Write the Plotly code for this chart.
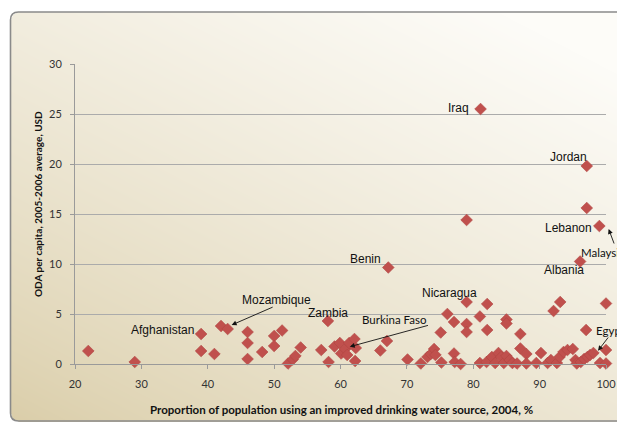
import base64
import struct
import zlib

import numpy as np
import plotly.graph_objects as go

# ---------------- data ----------------
water_pct = [
    22, 29, 39, 39, 41, 42, 43, 46, 46, 46, 48.2,
    50, 50, 51.2, 52.1, 52.8, 53.2, 54, 57.1, 58.1, 58.2,
    59.1, 59.9, 60.1, 60.7, 61, 61.3, 62.1, 62.3, 62.2,
    66, 67, 67.2, 70.1, 72.1, 73.1, 73.6, 74.1, 74.3,
    75.1, 75.2, 76.1, 77.1, 77.1, 77.2, 78.1,
    79, 79, 79, 79, 81, 81.1, 81,
    82.1, 82.1, 82, 82.8, 83.3, 83.8, 84.2, 84.6, 85.0, 85.5, 85.9, 86.6,
    85, 85, 87.1, 87.1, 88, 88,
    89.5, 90.2, 91.2, 91.7, 92.6, 93, 93.6, 94.2, 95, 95.4, 95.6,
    96.2, 96.7, 97.2, 97.6, 98.1, 99.1, 100, 100,
    92.1, 93.1, 97, 100,
    96.1, 97.1, 97.1, 99, 100.2,
]
oda_usd = [
    1.3, 0.2, 3.0, 1.3, 1.0, 3.8, 3.5, 3.2, 2.1, 0.5, 1.2,
    2.8, 1.8, 3.35, 0.05, 0.45, 0.8, 1.65, 1.4, 4.3, 0.2,
    1.75, 2.1, 1.05, 1.5, 0.9, 2.1, 2.5, 1.6, 0.3,
    1.35, 2.3, 9.65, 0.45, 0.05, 0.7, 1.0, 1.5, 0.9,
    3.15, 0.15, 5.0, 4.2, 1.05, 0.2, 0.0,
    6.2, 4.0, 3.2, 14.4, 4.75, 25.5, 0.1,
    6.0, 3.4, 0.2, 0.7, 0.1, 1.1, 0.7, 0.1, 0.8, 0.4, 0.1, 0.05,
    4.45, 4.05, 3.0, 1.55, 1.0, 0.05,
    0.1, 1.1, 0.1, 0.4, 0.1, 0.7, 1.2, 1.4, 1.5, 0.4, 0.05,
    0.2, 0.5, 0.7, 0.9, 1.1, 0.1, 1.4, 0.05,
    5.3, 6.2, 3.4, 6.05,
    10.25, 19.8, 15.6, 13.8, 13.9,
]

x_range = [20, 100]
y_range = [0, 30]
x_ticks = [20, 30, 40, 50, 60, 70, 80, 90, 100]
y_ticks = [0, 5, 10, 15, 20, 25, 30]

x_title = "Proportion of population using an improved drinking water source, 2004, %"
y_title = "ODA per capita, 2005-2006 average, USD"

# country labels
label_names = ["Iraq", "Jordan", "Lebanon", "Albania", "Malaysia", "Benin",
               "Nicaragua", "Zambia", "Mozambique", "Afghanistan",
               "Burkina Faso", "Egypt"]
label_x = [77.8, 94.4, 94.4, 93.6, 99.5, 63.7, 76.35, 58.16, 50.43, 33.2, 68.2, 100.7]
label_y = [25.6, 20.67, 13.63, 9.4, 11.2, 10.5, 7.07, 5.07, 6.4, 3.4, 4.45, 3.4]
label_calibri = [False, False, False, False, True, False, False, False, False, False, True, True]

# arrows: tail -> head
arrow_tail_x = [50.0, 73.4, 101.3, 100.5]
arrow_tail_y = [5.75, 3.9, 11.9, 2.8]
arrow_head_x = [43.6, 61.4, 100.4, 98.8]
arrow_head_y = [3.9, 1.73, 13.5, 1.33]

# ---------------- background gradient image ----------------
W, H = 640, 410
yy, xx = np.mgrid[0:H, 0:W].astype(float)
u = xx / W
v = 1.0 - yy / H
s = np.clip(0.5 * u + 0.62 * v, 0, 1) ** 0.8
dark = np.array([218, 205, 168], float)
light = np.array([253, 252, 248], float)
rgb = dark[None, None, :] + s[..., None] * (light - dark)[None, None, :]
alpha = np.full((H, W), 255.0)
r = 8.0
for cy in (r, H - 1 - r):
    d = np.sqrt((xx - r) ** 2 + (yy - cy) ** 2)
    mask = (xx < r) & (((yy < r) & (cy == r)) | ((yy > H - 1 - r) & (cy != r)))
    alpha[mask & (d > r)] = 0
img = np.dstack([rgb, alpha]).clip(0, 255).astype(np.uint8)


def png_bytes(a):
    h, w, _ = a.shape
    raw = b"".join(b"\x00" + a[i].tobytes() for i in range(h))

    def chunk(tag, data):
        c = struct.pack(">I", len(data)) + tag + data
        return c + struct.pack(">I", zlib.crc32(tag + data) & 0xFFFFFFFF)

    return (b"\x89PNG\r\n\x1a\n" + chunk(b"IHDR", struct.pack(">IIBBBBB", w, h, 8, 6, 0, 0, 0))
            + chunk(b"IDAT", zlib.compress(raw, 9)) + chunk(b"IEND", b""))


src = "data:image/png;base64," + base64.b64encode(png_bytes(img)).decode()

FIG_W, FIG_H = 617, 423
L_VP, R_VP, T_VP, B_VP = 75, 606, 64, 364     # plot area in page pixels
PW = R_VP - L_VP
PH = B_VP - T_VP


def px(xp):
    return (xp - L_VP) / PW


def py(yp):
    return (B_VP - yp) / PH


def dx(v):   # data x -> paper fraction (annotations may sit past the axis end)
    return (v - x_range[0]) / (x_range[1] - x_range[0])


def dy(v):
    return (v - y_range[0]) / (y_range[1] - y_range[0])


fig = go.Figure()

fig.add_trace(go.Scatter(
    x=water_pct, y=oda_usd, mode="markers",
    marker=dict(symbol="diamond", size=9, color="#C0504D",
                line=dict(color="#B04542", width=0.6)),
    cliponaxis=False, hoverinfo="x+y", showlegend=False,
))

annotations = []
for name, lx, ly, cal in zip(label_names, label_x, label_y, label_calibri):
    annotations.append(dict(
        x=dx(lx), y=dy(ly), xref="paper", yref="paper", text=name, showarrow=False,
        font=dict(family="Lato" if cal else "Liberation Sans", size=11.5 if cal else 12,
                  color="#111111"),
        xanchor="center", yanchor="middle",
    ))
for tx, ty, hx, hy in zip(arrow_tail_x, arrow_tail_y, arrow_head_x, arrow_head_y):
    annotations.append(dict(
        x=dx(hx), y=dy(hy), xref="paper", yref="paper",
        ax=(dx(tx) - dx(hx)) * PW, ay=-(dy(ty) - dy(hy)) * PH, axref="pixel", ayref="pixel",
        text="", showarrow=True, arrowhead=2, arrowsize=1.1, arrowwidth=0.9,
        arrowcolor="#111111",
    ))
annotations.append(dict(
    x=px(341), y=py(409), xref="paper", yref="paper", text="<b>" + x_title + "</b>",
    showarrow=False, font=dict(family="Lato", size=11.5, color="#111111"),
    xanchor="center", yanchor="middle",
))
annotations.append(dict(
    x=px(38), y=py(204), xref="paper", yref="paper", text="<b>" + y_title + "</b>",
    showarrow=False, textangle=-90, font=dict(family="Lato", size=10, color="#111111"),
    xanchor="center", yanchor="middle",
))

frame_path = (
    f"M {px(640)},{py(12)} L {px(18.5)},{py(12)} Q {px(10.5)},{py(12)} {px(10.5)},{py(20)} "
    f"L {px(10.5)},{py(413)} Q {px(10.5)},{py(421)} {px(18.5)},{py(421)} L {px(640)},{py(421)}"
)

fig.update_layout(
    width=FIG_W, height=FIG_H,
    margin=dict(l=L_VP, r=FIG_W - R_VP, t=T_VP, b=FIG_H - B_VP, autoexpand=False),
    paper_bgcolor="white",
    plot_bgcolor="rgba(0,0,0,0)",
    showlegend=False,
    images=[dict(source=src, xref="paper", yref="paper", x=px(10.5), y=py(12),
                 sizex=px(650) - px(10.5), sizey=py(12) - py(422),
                 xanchor="left", yanchor="top", sizing="stretch", layer="below")],
    shapes=[dict(type="path", path=frame_path, xref="paper", yref="paper",
                 line=dict(color="#8A8A8A", width=1.6), layer="above")],
    annotations=annotations,
    xaxis=dict(
        range=x_range, tickvals=x_ticks, ticktext=[str(t) for t in x_ticks],
        showgrid=False, zeroline=False, showline=True, linecolor="#9A9A9A", linewidth=1,
        ticks="outside", ticklen=4, tickcolor="#9A9A9A", automargin=False,
        tickfont=dict(family="Lato", size=11, color="#333333"), ticklabelstandoff=6,
    ),
    yaxis=dict(
        range=y_range, tickvals=y_ticks, ticktext=[str(t) for t in y_ticks],
        showgrid=True, gridcolor="#ABABAB", gridwidth=1, zeroline=False,
        showline=True, linecolor="#9A9A9A", linewidth=1, automargin=False,
        ticks="outside", ticklen=4, tickcolor="#9A9A9A",
        tickfont=dict(family="Lato", size=11, color="#333333"), ticklabelstandoff=6,
    ),
)

page_fix = (
    "document.documentElement.style.margin='0';document.body.style.margin='0';"
    "document.body.style.overflow='hidden';"
    "var gd=document.getElementById('{plot_id}');"
    "Plotly.relayout(gd,{width:617,height:423});"
)

fig.write_html("out.html", post_script=page_fix, config={"displayModeBar": False})
